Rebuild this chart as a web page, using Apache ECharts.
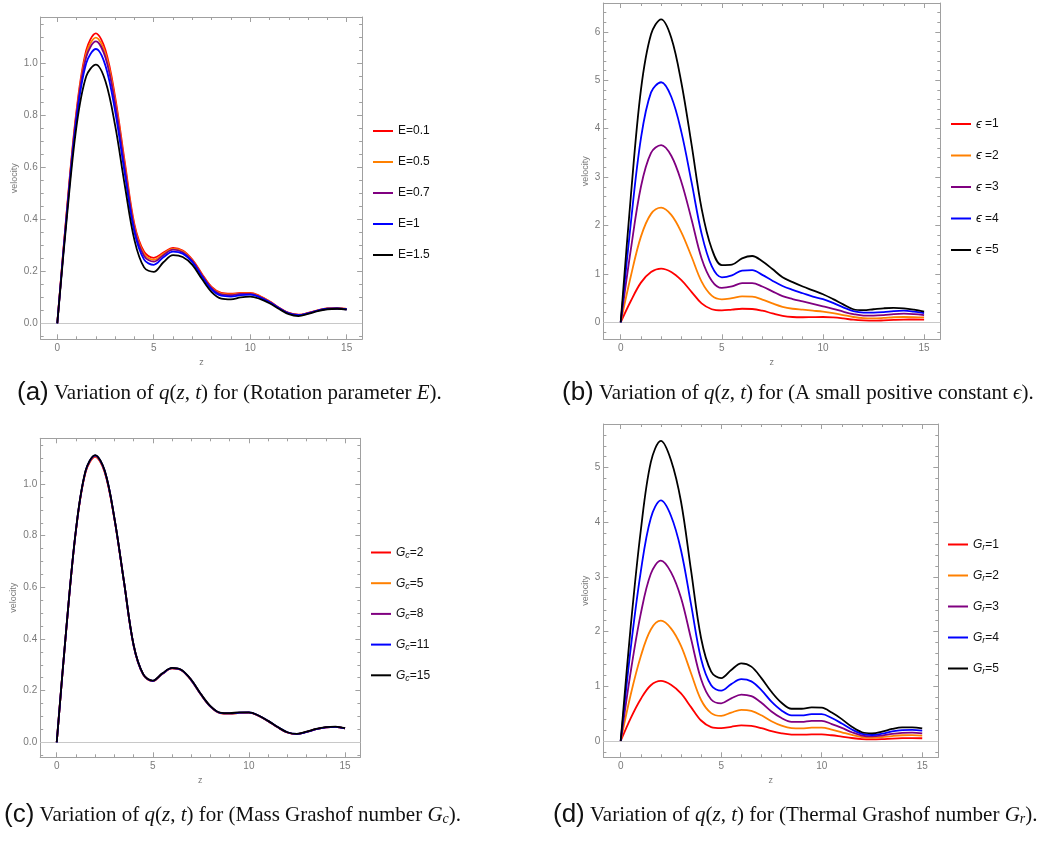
<!DOCTYPE html>
<html><head><meta charset="utf-8">
<script src="https://cdn.jsdelivr.net/npm/echarts@6.0.0/dist/echarts.min.js"></script>
<style>html,body{margin:0;padding:0;background:#fff}#c{width:1038px;height:841px}</style>
</head><body><div id="c"></div>
<script>
// ---------------- data ----------------
const zValues = [0,0.5,1,1.5,2,2.5,3,3.5,4,4.5,5,5.5,6,6.5,7,7.5,8,8.5,9,9.5,10,10.5,11,11.5,12,12.5,13,13.5,14,14.5,15];
const xTickLabels = [0,5,10,15];

// (a) Rotation parameter E
const namesA = ['E=0.1','E=0.5','E=0.7','E=1','E=1.5'];
const aE01 = [0,0.44,0.82,1.05,1.115,1.05,0.87,0.62,0.38,0.275,0.252,0.272,0.29,0.28,0.245,0.19,0.14,0.117,0.114,0.117,0.117,0.105,0.085,0.06,0.04,0.033,0.04,0.05,0.057,0.058,0.055];
const aE05 = [0,0.436,0.812,1.037,1.099,1.036,0.857,0.608,0.372,0.267,0.244,0.267,0.286,0.277,0.242,0.187,0.137,0.114,0.111,0.115,0.115,0.104,0.084,0.059,0.039,0.032,0.039,0.05,0.057,0.058,0.055];
const aE07 = [0,0.432,0.805,1.024,1.084,1.021,0.844,0.597,0.364,0.259,0.237,0.262,0.283,0.273,0.24,0.185,0.135,0.111,0.108,0.113,0.113,0.102,0.083,0.059,0.039,0.032,0.039,0.049,0.056,0.057,0.054];
const aE1  = [0,0.425,0.79,1.0,1.055,0.99,0.815,0.575,0.35,0.245,0.225,0.254,0.276,0.268,0.235,0.18,0.13,0.106,0.103,0.108,0.11,0.1,0.081,0.058,0.038,0.031,0.038,0.049,0.056,0.057,0.054];
const aE15 = [0,0.41,0.76,0.95,0.995,0.93,0.76,0.53,0.32,0.215,0.198,0.235,0.262,0.255,0.225,0.17,0.12,0.095,0.092,0.1,0.103,0.094,0.077,0.055,0.035,0.028,0.036,0.047,0.054,0.056,0.053];
const yTicksA = [0,0.2,0.4,0.6,0.8,1.0];

// (b) small positive constant epsilon
const namesB = ['ϵ =1','ϵ =2','ϵ =3','ϵ =4','ϵ =5'];
const bE1 = [0,0.44,0.82,1.04,1.11,1.04,0.87,0.63,0.39,0.27,0.245,0.262,0.28,0.275,0.24,0.185,0.135,0.11,0.105,0.108,0.11,0.1,0.08,0.055,0.04,0.033,0.04,0.05,0.057,0.058,0.055];
const bE2 = [0,0.95,1.77,2.24,2.37,2.22,1.86,1.36,0.84,0.55,0.475,0.5,0.535,0.53,0.47,0.39,0.32,0.28,0.26,0.24,0.22,0.19,0.15,0.11,0.085,0.08,0.09,0.105,0.11,0.108,0.1];
const bE3 = [0,1.5,2.8,3.5,3.66,3.44,2.9,2.13,1.32,0.86,0.71,0.74,0.81,0.81,0.74,0.64,0.54,0.48,0.43,0.38,0.33,0.28,0.22,0.17,0.14,0.14,0.15,0.17,0.18,0.17,0.15];
const bE4 = [0,2.05,3.8,4.75,4.96,4.66,3.93,2.9,1.83,1.16,0.93,0.97,1.07,1.08,0.98,0.86,0.75,0.67,0.6,0.53,0.48,0.4,0.31,0.23,0.2,0.2,0.21,0.23,0.24,0.22,0.19];
const bE5 = [0,2.6,4.8,5.95,6.26,5.88,4.95,3.68,2.35,1.52,1.18,1.19,1.32,1.37,1.26,1.1,0.93,0.83,0.74,0.66,0.58,0.48,0.37,0.27,0.25,0.27,0.29,0.3,0.29,0.26,0.22];
const yTicksB = [0,1,2,3,4,5,6];

// (c) Mass Grashof number Gc
const namesC = ['Gc=2','Gc=5','Gc=8','Gc=11','Gc=15'];
const cG2  = [0,0.44,0.82,1.045,1.105,1.045,0.865,0.62,0.375,0.262,0.237,0.265,0.286,0.278,0.24,0.185,0.138,0.113,0.111,0.114,0.115,0.103,0.082,0.058,0.038,0.032,0.04,0.051,0.058,0.06,0.054];
const cG5  = [0,0.44,0.82,1.047,1.107,1.047,0.866,0.62,0.375,0.262,0.237,0.265,0.286,0.278,0.24,0.185,0.138,0.113,0.111,0.114,0.115,0.103,0.082,0.058,0.038,0.032,0.04,0.051,0.058,0.06,0.054];
const cG8  = [0,0.441,0.821,1.049,1.109,1.049,0.867,0.621,0.376,0.263,0.238,0.266,0.287,0.279,0.241,0.186,0.139,0.114,0.112,0.115,0.115,0.103,0.082,0.058,0.038,0.032,0.04,0.051,0.058,0.06,0.054];
const cG11 = [0,0.441,0.822,1.05,1.111,1.05,0.868,0.621,0.376,0.263,0.238,0.266,0.287,0.279,0.241,0.186,0.139,0.114,0.112,0.115,0.116,0.104,0.083,0.059,0.039,0.033,0.04,0.051,0.058,0.06,0.054];
const cG15 = [0,0.442,0.823,1.051,1.112,1.051,0.869,0.622,0.377,0.264,0.239,0.267,0.288,0.28,0.242,0.187,0.14,0.115,0.113,0.116,0.116,0.104,0.083,0.059,0.039,0.033,0.041,0.052,0.059,0.061,0.055];
const yTicksC = [0,0.2,0.4,0.6,0.8,1.0];

// (d) Thermal Grashof number Gr
const namesD = ['Gr=1','Gr=2','Gr=3','Gr=4','Gr=5'];
const dG1 = [0,0.42,0.77,1.02,1.1,1.03,0.87,0.62,0.375,0.255,0.235,0.26,0.285,0.275,0.235,0.18,0.14,0.117,0.115,0.12,0.12,0.105,0.08,0.055,0.035,0.03,0.035,0.045,0.052,0.054,0.05];
const dG2 = [0,0.85,1.55,2.04,2.2,2.06,1.74,1.24,0.75,0.51,0.46,0.52,0.57,0.55,0.47,0.36,0.28,0.235,0.23,0.245,0.245,0.21,0.16,0.11,0.07,0.06,0.07,0.09,0.105,0.108,0.1];
const dG3 = [0,1.27,2.33,3.06,3.3,3.09,2.62,1.87,1.13,0.76,0.69,0.78,0.85,0.82,0.7,0.54,0.42,0.35,0.35,0.37,0.37,0.31,0.24,0.16,0.1,0.085,0.1,0.13,0.15,0.155,0.14];
const dG4 = [0,1.7,3.1,4.08,4.4,4.12,3.49,2.5,1.5,1.02,0.92,1.04,1.13,1.09,0.93,0.72,0.56,0.47,0.47,0.49,0.49,0.42,0.32,0.21,0.13,0.11,0.135,0.175,0.2,0.205,0.19];
const dG5 = [0,2.1,3.85,5.1,5.49,5.14,4.38,3.12,1.88,1.27,1.15,1.3,1.42,1.36,1.15,0.9,0.7,0.59,0.59,0.615,0.61,0.52,0.4,0.26,0.16,0.14,0.17,0.22,0.25,0.25,0.23];
const yTicksD = [0,1,2,3,4,5];

// ---------------- styling ----------------
const SANS = '"Liberation Sans", Arial, sans-serif';
const SERIF = '"Liberation Serif", "DejaVu Serif", serif';
const FRAME = '#a0a0a0';
const TICKTXT = '#7a7a7a';
const COLORS = ['#ff0000','#ff8000','#800080','#0000ff','#000000'];

function seq(a,b,s){const r=[];for(let v=a; v<=b+1e-9; v+=s) r.push(Math.round(v*1000)/1000); return r;}
function minorOf(all, majors){return all.filter(v=>!majors.some(m=>Math.abs(m-v)<1e-6));}

const panels = [
  {grid:{left:40.7, top:17, width:321.4, height:322.3}, ymin:-0.0615, ymax:1.178, yMajor:yTicksA,
   yMinor:minorOf(seq(-0.05,1.15,0.05), yTicksA), dec:1, names:namesA, data:[aE01,aE05,aE07,aE1,aE15],
   legend:{left:373, top:124, gap:17}, vGap:22},
  {grid:{left:603.3, top:3, width:337.0, height:336.3}, ymin:-0.351, ymax:6.597, yMajor:yTicksB,
   yMinor:minorOf(seq(-0.2,6.4,0.2), yTicksB), dec:0, names:namesB, data:[bE1,bE2,bE3,bE4,bE5],
   legend:{left:951, top:117, gap:17.5}, vGap:13},
  {grid:{left:40.2, top:438.3, width:320.2, height:319}, ymin:-0.058, ymax:1.177, yMajor:yTicksC,
   yMinor:minorOf(seq(-0.05,1.15,0.05), yTicksC), dec:1, names:namesC, data:[cG2,cG5,cG8,cG11,cG15],
   legend:{left:371, top:545, gap:15.7}, vGap:22},
  {grid:{left:603.4, top:424, width:334.9, height:333.3}, ymin:-0.298, ymax:5.798, yMajor:yTicksD,
   yMinor:minorOf(seq(-0.2,5.6,0.2), yTicksD), dec:0, names:namesD, data:[dG1,dG2,dG3,dG4,dG5],
   legend:{left:948, top:537, gap:16}, vGap:13}
];

const xMinor = minorOf(seq(0,15,1), xTickLabels);

const grids=[], xAxes=[], yAxes=[], series=[], legends=[];
panels.forEach((p,i)=>{
  grids.push(Object.assign({containLabel:false}, p.grid));
  const xBase = {type:'value', gridIndex:i, min:-0.86, max:15.8, splitLine:{show:false}};
  const line = {show:true, onZero:false, lineStyle:{color:FRAME, width:1}};
  const noLine = {show:false, onZero:false};
  xAxes.push(Object.assign({}, xBase, {position:'bottom', axisLine:line,
    name:'z', nameLocation:'middle', nameGap:19, nameTextStyle:{color:TICKTXT, fontSize:9, fontFamily:SANS},
    axisTick:{show:true, inside:true, length:5, lineStyle:{color:FRAME}, customValues:xTickLabels},
    axisLabel:{show:true, customValues:xTickLabels, color:TICKTXT, fontSize:10, fontFamily:SANS, margin:4}}));
  xAxes.push(Object.assign({}, xBase, {position:'bottom', axisLine:noLine,
    axisTick:{show:true, inside:true, length:3, lineStyle:{color:FRAME}, customValues:xMinor}, axisLabel:{show:false}}));
  xAxes.push(Object.assign({}, xBase, {position:'top', axisLine:line,
    axisTick:{show:true, inside:true, length:5, lineStyle:{color:FRAME}, customValues:xTickLabels}, axisLabel:{show:false}}));
  xAxes.push(Object.assign({}, xBase, {position:'top', axisLine:noLine,
    axisTick:{show:true, inside:true, length:3, lineStyle:{color:FRAME}, customValues:xMinor}, axisLabel:{show:false}}));

  const yBase = {type:'value', gridIndex:i, min:p.ymin, max:p.ymax, splitLine:{show:false}};
  yAxes.push(Object.assign({}, yBase, {position:'left', axisLine:line,
    name:'velocity', nameLocation:'middle', nameRotate:90, nameGap:p.vGap, nameTextStyle:{color:TICKTXT, fontSize:9, fontFamily:SANS},
    axisTick:{show:true, inside:true, length:5, lineStyle:{color:FRAME}, customValues:p.yMajor},
    axisLabel:{show:true, customValues:p.yMajor, color:TICKTXT, fontSize:10, fontFamily:SANS, margin:3,
      formatter:(v)=>Number(v).toFixed(p.dec)}}));
  yAxes.push(Object.assign({}, yBase, {position:'left', axisLine:noLine,
    axisTick:{show:true, inside:true, length:3, lineStyle:{color:FRAME}, customValues:p.yMinor}, axisLabel:{show:false}}));
  yAxes.push(Object.assign({}, yBase, {position:'right', axisLine:line,
    axisTick:{show:true, inside:true, length:5, lineStyle:{color:FRAME}, customValues:p.yMajor}, axisLabel:{show:false}}));
  yAxes.push(Object.assign({}, yBase, {position:'right', axisLine:noLine,
    axisTick:{show:true, inside:true, length:3, lineStyle:{color:FRAME}, customValues:p.yMinor}, axisLabel:{show:false}}));

  p.names.forEach((nm,k)=>{
    const s = {
      name:nm, type:'line', xAxisIndex:i*4, yAxisIndex:i*4, symbol:'none', smooth:0.35,
      lineStyle:{color:COLORS[k], width:1.8}, itemStyle:{color:COLORS[k]}, z:3+k,
      data: zValues.map((z,j)=>[z, p.data[k][j]])
    };
    if(k===0){
      s.markLine = {silent:true, symbol:'none', label:{show:false}, animation:false,
        lineStyle:{color:'#c8c8c8', type:'solid', width:1}, data:[{yAxis:0}]};
    }
    series.push(s);
  });

  legends.push({
    data:p.names, orient:'vertical', left:p.legend.left, top:p.legend.top, padding:0,
    icon:'rect', itemWidth:20, itemHeight:2, itemGap:p.legend.gap, selectedMode:false,
    textStyle:{color:'#111', fontSize:12, fontFamily:SANS, lineHeight:14,
      rich:{
        e:{fontStyle:'italic', fontSize:13, fontFamily:SANS, color:'#111', lineHeight:14},
        g:{fontStyle:'italic', fontSize:12, fontFamily:SANS, color:'#111', lineHeight:14},
        s:{fontStyle:'italic', fontSize:9, fontFamily:SANS, color:'#111', padding:[6,0,0,0], lineHeight:14},
        n:{fontSize:12, fontFamily:SANS, color:'#111', lineHeight:14}
      }},
    formatter:(name)=>{
      if(name.startsWith('ϵ')) return '{e|ϵ}{n| ' + name.slice(2) + '}';
      if(name.startsWith('G')) return '{g|G}{s|' + name[1] + '}{n|' + name.slice(2) + '}';
      return '{n|' + name + '}';
    }
  });
});

const capRich = {
  p:{fontFamily:SANS, fontSize:26, fontWeight:'normal', color:'#111'},
  r:{fontFamily:SERIF, fontSize:21, fontWeight:'normal', color:'#111'},
  i:{fontFamily:SERIF, fontSize:21, fontWeight:'normal', fontStyle:'italic', color:'#111'},
  sb:{fontFamily:SERIF, fontSize:14, fontWeight:'normal', fontStyle:'italic', color:'#111', padding:[8,0,0,0]}
};
const captions = [
  {left:17, top:380, text:'{p|(a)} {r|Variation of }{i|q}{r|(}{i|z}{r|, }{i|t}{r|) for (Rotation parameter }{i|E}{r|).}'},
  {left:562, top:380, text:'{p|(b)} {r|Variation of }{i|q}{r|(}{i|z}{r|, }{i|t}{r|) for (A small positive constant }{i|ϵ}{r|).}'},
  {left:4, top:802, text:'{p|(c)} {r|Variation of }{i|q}{r|(}{i|z}{r|, }{i|t}{r|) for (Mass Grashof number }{i|G}{sb|c}{r|).}'},
  {left:553, top:802, text:'{p|(d)} {r|Variation of }{i|q}{r|(}{i|z}{r|, }{i|t}{r|) for (Thermal Grashof number }{i|G}{sb|r}{r|).}'}
];

const chart = echarts.init(document.getElementById('c'));
chart.setOption({
  animation:false,
  backgroundColor:'#ffffff',
  title: captions.map(c=>({left:c.left, top:c.top, text:c.text, padding:0,
    textStyle:{fontWeight:'normal', fontFamily:SERIF, fontSize:21, rich:capRich}})),
  grid:grids, xAxis:xAxes, yAxis:yAxes, legend:legends, series:series
});
</script>
</body></html>
